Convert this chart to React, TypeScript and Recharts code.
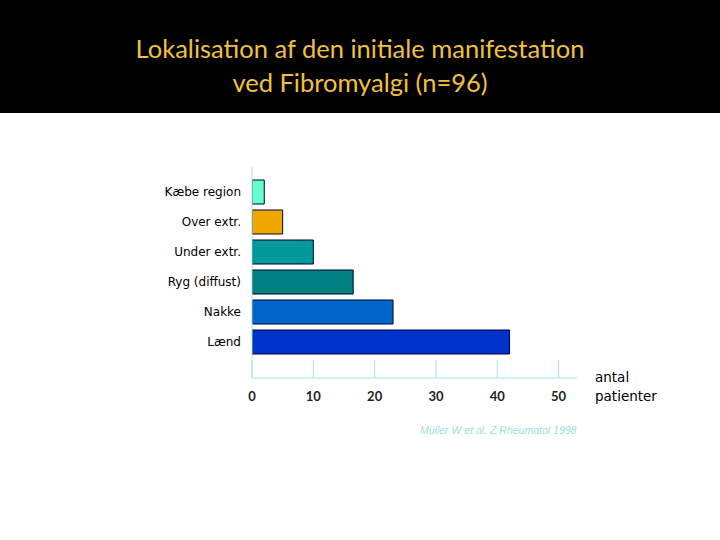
import { BarChart, Bar, XAxis, YAxis, Cell } from 'recharts'

const regions = ['Kæbe region', 'Over extr.', 'Under extr.', 'Ryg (diffust)', 'Nakke', 'Lænd']
const patients = [2, 5, 10, 16.5, 23, 42]
const barColors = ['#66FFCC', '#F0A800', '#009999', '#008080', '#0066CC', '#0033CC']
const xTicks = [0, 10, 20, 30, 40, 50]

const axisColor = '#A6E8DC'

const data = regions.map((name, i) => ({ name, value: patients[i] }))

function XTick(props: any) {
    const { x, y, payload } = props
    return (
        <g>
            <line x1={x} x2={x} y1={y - 18} y2={y} stroke={axisColor} strokeWidth={1} />
            <text x={x} y={y + 23} textAnchor="middle" fontSize={13} fontWeight="bold"
                fill="#222" fontFamily="Lato, 'Noto Sans'">
                {payload.value}
            </text>
        </g>
    )
}

export default function App() {
    return (
        <div style={{ position: 'absolute', left: 0, top: 0, width: 720, height: 540, background: '#fff', overflow: 'hidden' }}>
            <div style={{
                position: 'absolute', left: 0, top: 0, width: 720, height: 113, background: '#000',
                color: '#F2C040', fontFamily: 'Lato, "Open Sans", sans-serif', fontSize: 25.5,
                textAlign: 'center', lineHeight: '34px', paddingTop: 31, boxSizing: 'border-box'
            }}>
                <div>Lokalisation af den initiale manifestation</div>
                <div>ved Fibromyalgi (n=96)</div>
            </div>
            <div style={{ position: 'absolute', left: 0, top: 0 }}>
                <BarChart width={720} height={540} data={data} layout="vertical"
                    margin={{ top: 167, right: 143, bottom: 102, left: 122 }}
                    barCategoryGap={6}>
                    <XAxis type="number" domain={[0, 53]} ticks={xTicks} allowDataOverflow
                        height={60} tickLine={false} tickSize={0} tickMargin={0}
                        axisLine={{ stroke: axisColor }} tick={<XTick />} />
                    <YAxis type="category" dataKey="name" width={130}
                        padding={{ top: 10, bottom: 21 }}
                        tickLine={false} tickSize={0} tickMargin={11}
                        axisLine={{ stroke: axisColor }}
                        tick={{ fill: '#000', fontSize: 12, fontFamily: '"DejaVu Sans", Verdana, sans-serif' }} />
                    <Bar dataKey="value" barSize={24} stroke="#000033" strokeWidth={1}
                        isAnimationActive={false}>
                        {data.map((entry, index) => (
                            <Cell key={`cell-${index}`} fill={barColors[index]} />
                        ))}
                    </Bar>
                </BarChart>
            </div>
            <div style={{
                position: 'absolute', left: 595, top: 368, fontFamily: '"DejaVu Sans", sans-serif',
                fontSize: 13.5, color: '#000', lineHeight: '19px'
            }}>
                <div>antal</div>
                <div>patienter</div>
            </div>
            <div style={{
                position: 'absolute', left: 420, top: 424, width: 160, fontFamily: '"Liberation Sans", sans-serif',
                fontStyle: 'italic', fontSize: 10.5, color: '#9EDFD6', whiteSpace: 'nowrap'
            }}>
                Müller W et al. Z Rheumatol 1998
            </div>
        </div>
    )
}
